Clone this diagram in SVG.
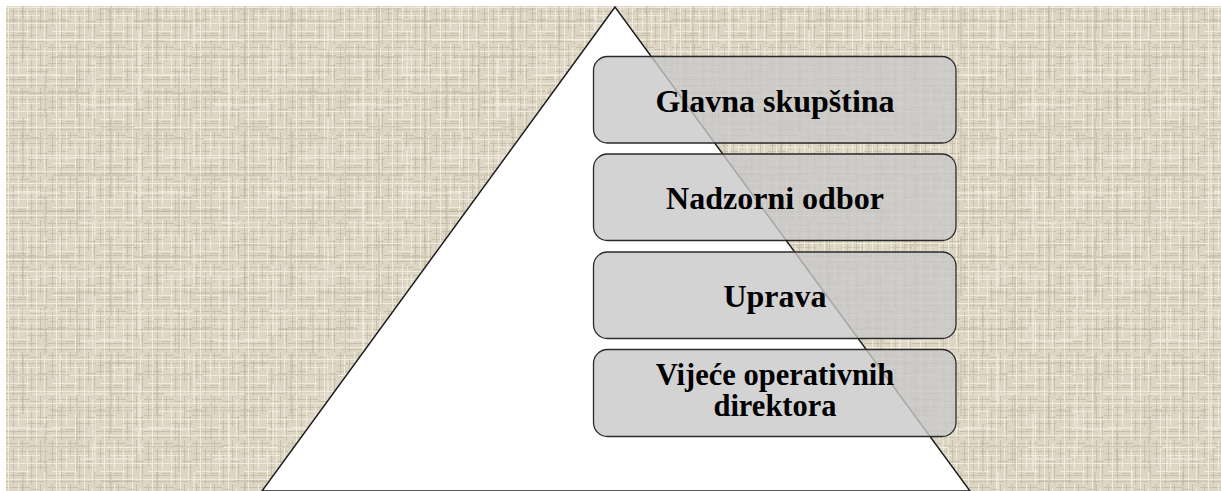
<svg xmlns="http://www.w3.org/2000/svg" width="1221" height="491" viewBox="0 0 1221 491">
<style>
.box{fill:#c8c8c8;fill-opacity:0.8;stroke:#2a2a2a;stroke-width:1.3}
.lbl{font-family:"Liberation Serif","Times New Roman",serif;font-weight:bold;font-size:32px;fill:#000;text-anchor:middle}
.lbl2{font-size:30.5px}
</style>
<defs>
<pattern id="linen" x="0" y="0" width="48" height="44" patternUnits="userSpaceOnUse">
<rect width="48" height="44" fill="#ded6c4"/>
<g stroke="#c9bfaa" stroke-width="1">
<path d="M0 3.5H30M10 11.5H48M0 19.5H20M26 27.5H48M0 35.5H38M6 41.5H44"/>
<path d="M4.5 0V26M13.5 8V44M22.5 0V18M31.5 14V44M40.5 0V30M46.5 20V44"/>
</g>
<g stroke="#f0eadd" stroke-width="1">
<path d="M0 7.5H48M14 15.5H40M0 23.5H48M4 31.5H30M0 39.5H48"/>
<path d="M8.5 0V44M18.5 0V30M27.5 10V44M36.5 0V44M44.5 4V40"/>
</g>
<g stroke="#bdb39e" stroke-width="1" opacity="0.6">
<path d="M2 13.5H9M30 5.5H38M18 33.5H26M38 21.5H46"/>
</g>
</pattern>
<pattern id="mottle" x="0" y="0" width="134" height="118" patternUnits="userSpaceOnUse">
<g stroke="#b8ad96" stroke-width="2" opacity="0.35">
<path d="M0 21H70M52 57H134M10 93H90M100 9H134"/>
<path d="M23 0V60M77 40V118M111 0V80M45 70V118"/>
</g>
<g stroke="#f6f2e8" stroke-width="2" opacity="0.45">
<path d="M30 40H110M0 75H60M80 105H134"/>
<path d="M60 0V50M95 60V118M5 30V100"/>
</g>
</pattern>
</defs>
<rect width="1221" height="491" fill="#ffffff"/>
<rect x="6" y="6" width="1215" height="485" fill="url(#linen)"/>
<rect x="6" y="6" width="1215" height="485" fill="url(#mottle)"/>
<g id="pyramid">
<polygon points="615,7 262,491 970,491" fill="#ffffff" stroke="#1e1e1e" stroke-width="1.5"/>
</g>
<g id="connectors"></g>
<g id="node1">
<rect class="box" x="593.5" y="56.5" width="362.5" height="86.5" rx="14"/>
<text class="lbl" x="775" y="111.5">Glavna skupština</text>
</g>
<g id="node2">
<rect class="box" x="593.5" y="154" width="362.5" height="86.5" rx="14"/>
<text class="lbl" x="775" y="209">Nadzorni odbor</text>
</g>
<g id="node3">
<rect class="box" x="593.5" y="252" width="362.5" height="86.5" rx="14"/>
<text class="lbl" x="775" y="306.5">Uprava</text>
</g>
<g id="node4">
<rect class="box" x="593.5" y="349.5" width="362.5" height="87" rx="14"/>
<text class="lbl lbl2" x="775" y="385">Vijeće operativnih</text>
<text class="lbl lbl2" x="775" y="416">direktora</text>
</g>
</svg>
